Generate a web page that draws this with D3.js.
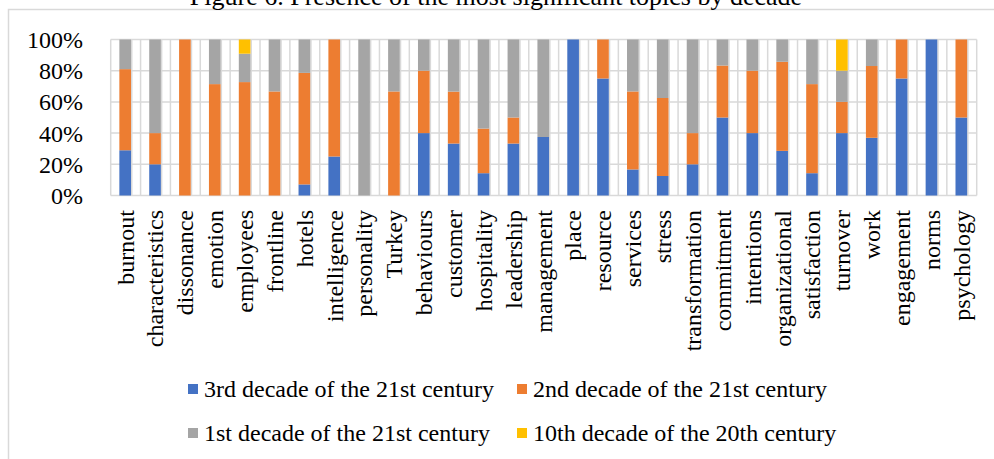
<!DOCTYPE html>
<html>
<head>
<meta charset="utf-8">
<script src="https://cdn.jsdelivr.net/npm/d3@7/dist/d3.min.js"></script>
<style>
  body { margin: 0; background: #fff; }
  svg { display: block; font-family: "Liberation Serif", "Times New Roman", serif; }
</style>
</head>
<body>
<div id="vis"></div>
<script>
// topics, in the order they appear on the x axis
var categories = ["burnout", "characteristics", "dissonance", "emotion", "employees", "frontline",
  "hotels", "intelligence", "personality", "Turkey", "behaviours", "customer", "hospitality",
  "leadership", "management", "place", "resource", "services", "stress", "transformation",
  "commitment", "intentions", "organizational", "satisfaction", "turnover", "work",
  "engagement", "norms", "psychology"];

// shares in % per decade
var decade3_21 = [29, 20, 0, 0, 0, 0, 7.1, 25, 0, 0, 40, 33.3, 14.3, 33.3, 37.5, 100, 75, 16.7, 12.5, 20,
  50, 40, 28.6, 14.3, 40, 37, 75, 100, 50];
var decade2_21 = [52, 20, 100, 71.4, 72.7, 66.7, 71.5, 75, 0, 66.7, 40, 33.3, 28.6, 16.7, 0, 0, 25, 50, 50, 20,
  33.3, 40, 57.1, 57.1, 20, 46, 25, 0, 50];
var decade1_21 = [19, 60, 0, 28.6, 18.2, 33.3, 21.4, 0, 100, 33.3, 20, 33.4, 57.1, 50, 62.5, 0, 0, 33.3, 37.5, 60,
  16.7, 20, 14.3, 28.6, 20, 17, 0, 0, 0];
var decade10_20 = [0, 0, 0, 0, 9.1, 0, 0, 0, 0, 0, 0, 0, 0, 0, 0, 0, 0, 0, 0, 0,
  0, 0, 0, 0, 20, 0, 0, 0, 0];

var seriesNames = ["3rd decade of the 21st century", "2nd decade of the 21st century",
  "1st decade of the 21st century", "10th decade of the 20th century"];
var yTicks = [0, 20, 40, 60, 80, 100];

var colors = ["#4472C4", "#ED7D31", "#A5A5A5", "#FFC000"];
var keys = ["d3", "d2", "d1", "d10"];

var w = 994, h = 459;
var rows = categories.map(function (c, i) {
  return { cat: c, d3: decade3_21[i], d2: decade2_21[i], d1: decade1_21[i], d10: decade10_20[i] };
});

var svg = d3.select("#vis").append("svg")
  .attr("width", w)
  .attr("height", h);

// chart frame (runs off the right / bottom edges)
svg.append("rect")
  .attr("x", 8.5).attr("y", 9.5)
  .attr("width", 1100).attr("height", 600)
  .attr("fill", "#fff")
  .attr("stroke", "#d9d9d9")
  .attr("stroke-width", 1.5);

// title, mostly cut off at the top like in the source
svg.append("text")
  .attr("x", 496).attr("y", 5)
  .attr("text-anchor", "middle")
  .style("font-size", "26px")
  .text("Figure 6. Presence of the most significant topics by decade");

var x = d3.scaleBand()
  .domain(categories)
  .range([110.7, 976.7]);

var y = d3.scaleLinear()
  .domain([0, 100])
  .range([195.5, 39.5]);

var grid = svg.append("g");

// horizontal grid
grid.selectAll("line.h")
  .data(yTicks)
  .enter().append("line")
  .attr("class", "h")
  .attr("x1", x.range()[0]).attr("x2", x.range()[1])
  .attr("y1", function (d) { return y(d); })
  .attr("y2", function (d) { return y(d); })
  .attr("stroke", "#d9d9d9")
  .attr("stroke-width", 1.5);

// vertical grid: category borders plus the line just right of each bar
var vlines = [];
categories.forEach(function (c) {
  vlines.push(x(c));
  vlines.push(x(c) + x.bandwidth() * 0.705);
});
vlines.push(x.range()[1]);
grid.selectAll("line.v")
  .data(vlines)
  .enter().append("line")
  .attr("class", "v")
  .attr("x1", function (d) { return d; })
  .attr("x2", function (d) { return d; })
  .attr("y1", y(100)).attr("y2", y(0))
  .attr("stroke", "#d9d9d9")
  .attr("stroke-width", 1.5);

// bars
var stacked = d3.stack().keys(keys)(rows);

svg.append("g")
  .selectAll("g")
  .data(stacked)
  .enter().append("g")
  .attr("fill", function (d, i) { return colors[i]; })
  .selectAll("rect")
  .data(function (d) { return d; })
  .enter().append("rect")
  .attr("x", function (d) { return x(d.data.cat) + x.bandwidth() * 0.29; })
  .attr("width", x.bandwidth() * 0.39)
  .attr("y", function (d) { return y(d[1]); })
  .attr("height", function (d) { return y(d[0]) - y(d[1]); });

// y axis labels
svg.append("g")
  .selectAll("text")
  .data(yTicks)
  .enter().append("text")
  .attr("x", 83)
  .attr("y", function (d) { return y(d); })
  .attr("dy", "0.35em")
  .attr("text-anchor", "end")
  .style("font-size", "24px")
  .text(function (d) { return d + "%"; });

// x axis labels, rotated
svg.append("g")
  .selectAll("text")
  .data(categories)
  .enter().append("text")
  .attr("transform", function (d) {
    return "translate(" + [x(d) + x.bandwidth() / 2, 210] + ")rotate(-90)";
  })
  .attr("dy", "0.33em")
  .attr("text-anchor", "end")
  .style("font-size", "24px")
  .text(function (d) { return d; });

// legend, two rows
var legendPos = [[188, 389], [517, 389], [188, 433], [517, 433]];
var lg = svg.append("g")
  .selectAll("g")
  .data(seriesNames)
  .enter().append("g")
  .attr("transform", function (d, i) { return "translate(" + legendPos[i] + ")"; });

lg.append("rect")
  .attr("x", 0).attr("y", -5)
  .attr("width", 10).attr("height", 10)
  .attr("fill", function (d, i) { return colors[i]; });

lg.append("text")
  .attr("x", 16)
  .attr("dy", "0.35em")
  .style("font-size", "24px")
  .text(function (d) { return d; });
</script>
</body>
</html>
